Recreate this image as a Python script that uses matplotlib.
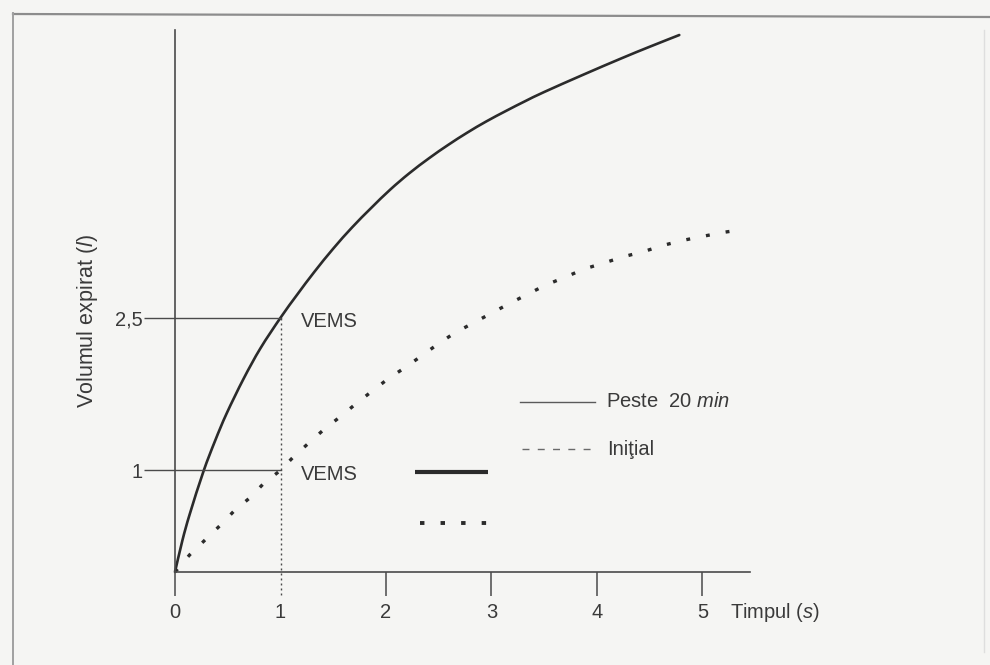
import matplotlib
matplotlib.use("Agg")
import matplotlib.pyplot as plt
import numpy as np
from matplotlib.lines import Line2D
from matplotlib.path import Path
from matplotlib.patches import PathPatch

plt.rcParams["font.family"] = ["Liberation Sans", "DejaVu Sans"]
plt.rcParams["mathtext.fontset"] = "custom"
plt.rcParams["mathtext.rm"] = "Liberation Sans"
plt.rcParams["mathtext.it"] = "Liberation Sans:italic"
plt.rcParams["lines.scale_dashes"] = False

# Expiratory volume (l) against time (s)
after_t = [0, 0.07, 0.14, 0.27, 0.38, 0.49, 0.65, 0.81, 1.00, 1.16, 1.32,
           1.50, 1.68, 1.86, 2.04, 2.22, 2.41, 2.59, 2.77, 2.95, 3.14, 3.32,
           3.50, 3.87, 4.23, 4.50, 4.78]
after_v = [0, 0.31, 0.57, 0.99, 1.29, 1.56, 1.90, 2.20, 2.50, 2.73, 2.95,
           3.18, 3.39, 3.58, 3.76, 3.92, 4.07, 4.20, 4.32, 4.43, 4.535, 4.63,
           4.72, 4.89, 5.05, 5.165, 5.28]

initial_t = [0, 0.14, 0.29, 0.43, 0.56, 0.71, 0.84, 1.00, 1.13, 1.27, 1.41, 1.57,
             1.71, 1.87, 2.02, 2.18, 2.33, 2.49, 2.65, 2.83, 2.99, 3.17, 3.34,
             3.51, 3.70, 3.88, 4.07, 4.25, 4.44, 4.62, 4.81, 5.00, 5.20, 5.40]
initial_v = [0, 0.17, 0.32, 0.46, 0.60, 0.73, 0.87, 1.00, 1.14, 1.27, 1.40, 1.53,
             1.65, 1.78, 1.90, 2.01, 2.12, 2.24, 2.35, 2.45, 2.54, 2.64, 2.73,
             2.82, 2.90, 2.98, 3.04, 3.10, 3.15, 3.21, 3.26, 3.30, 3.34, 3.37]

x_ticks = [0, 1, 2, 3, 4, 5]
x_tick_labels = ["0", "1", "2", "3", "4", "5"]
vems_time = 1
vems_values = [2.5, 1]
vems_labels = ["2,5", "1"]

ink = "#2b2b2b"
soft = "#4a4a4a"
text_col = "#3a3a3a"
page = "#f5f5f3"
fs = 14.5


def smooth_path(xs, ys):
    """Bezier path through the given points (Catmull-Rom tangents)."""
    pts = np.column_stack([xs, ys]).astype(float)
    ext = np.vstack([pts[0], pts, pts[-1]])
    verts = [pts[0]]
    codes = [Path.MOVETO]
    for i in range(len(pts) - 1):
        p0, p1, p2, p3 = ext[i], ext[i + 1], ext[i + 2], ext[i + 3]
        verts += [p1 + (p2 - p0) / 6, p2 - (p3 - p1) / 6, p2]
        codes += [Path.CURVE4] * 3
    return Path(verts, codes)


fig = plt.figure(figsize=(9.9, 6.65), dpi=100, facecolor=page)

# page frame of the printed figure
fig.add_artist(Line2D([13 / 990, 1.0], [1 - 14 / 665, 1 - 17 / 665],
                      transform=fig.transFigure, color="#8c8c8c", lw=1.6))
fig.add_artist(Line2D([13 / 990, 13 / 990], [1 - 13 / 665, 0.0],
                      transform=fig.transFigure, color="#a0a0a0", lw=1.4))
fig.add_artist(Line2D([984 / 990, 984 / 990], [1 - 30 / 665, 0.02],
                      transform=fig.transFigure, color="#dedede", lw=1.0))

ax = fig.add_axes([175 / 990, (665 - 572) / 665, 575 / 990, 542 / 665])
ax.set_facecolor("none")
ax.set_xlim(0, 575 / 105.5)
ax.set_ylim(0, 542 / 101.7)
for side in ("top", "right"):
    ax.spines[side].set_visible(False)
for side in ("left", "bottom"):
    ax.spines[side].set_color(soft)
    ax.spines[side].set_linewidth(1.2)

ax.set_xticks(x_ticks)
ax.set_xticklabels(x_tick_labels)
ax.tick_params(axis="x", direction="out", length=17, width=1.1, color=soft,
               labelsize=fs, labelcolor=text_col, pad=5)
ax.xaxis.get_major_ticks()[x_ticks.index(vems_time)].tick1line.set_visible(False)

ax.set_yticks(vems_values)
ax.set_yticklabels(vems_labels)
ax.tick_params(axis="y", direction="out", length=22, width=1.0, color=soft,
               labelsize=fs, labelcolor=text_col, pad=1)

# curves
ax.add_patch(PathPatch(smooth_path(after_t, after_v), facecolor="none",
                       edgecolor=ink, lw=1.9, clip_on=False,
                       capstyle="round", joinstyle="round"))
ax.plot(initial_t, initial_v, color=ink, lw=2.4, clip_on=False,
        linestyle=(0, (2.8, 11.6)), dash_capstyle="butt")

# FEV1 read-off lines
for v in vems_values:
    ax.plot([0, vems_time], [v, v], color=soft, lw=1.0)
    ax.text(vems_time + 0.19, v - 0.04, "VEMS", fontsize=fs, color=text_col,
            ha="left", va="center")
ax.plot([vems_time, vems_time], [max(vems_values), -0.25], color=soft, lw=1.0,
        linestyle=(0, (1.4, 2.2)), clip_on=False)

# key
ax.plot([3.27, 3.98], [1.672, 1.672], color="#5a5a5a", lw=1.0)
ax.text(4.085, 1.672, "Peste  20 $\\mathit{min}$", fontsize=fs,
        color=text_col, ha="left", va="center")
ax.plot([3.29, 3.98], [1.209, 1.209], color="#6a6a6a", lw=1.0,
        linestyle=(0, (5.0, 6.0)))
ax.text(4.10, 1.209, "Iniţial", fontsize=fs, color=text_col,
        ha="left", va="center")
ax.plot([2.275, 2.967], [0.983, 0.983], color=ink, lw=3.0,
        solid_capstyle="butt")
ax.plot([2.32, 2.967], [0.482, 0.482], color=ink, lw=2.8,
        linestyle=(0, (3.2, 11.6)), dash_capstyle="butt")

# axis titles
ax.text(5.26, -0.40, "Timpul ($\\mathit{s}$)", fontsize=fs, color=text_col,
        ha="left", va="center", clip_on=False)
fig.text(88 / 990, 1 - 321 / 665, "Volumul expirat ($\\mathit{l}$)",
         fontsize=15.5, color=text_col, rotation=90, ha="center", va="center")

fig.savefig("out.png", dpi=100, facecolor=page)
